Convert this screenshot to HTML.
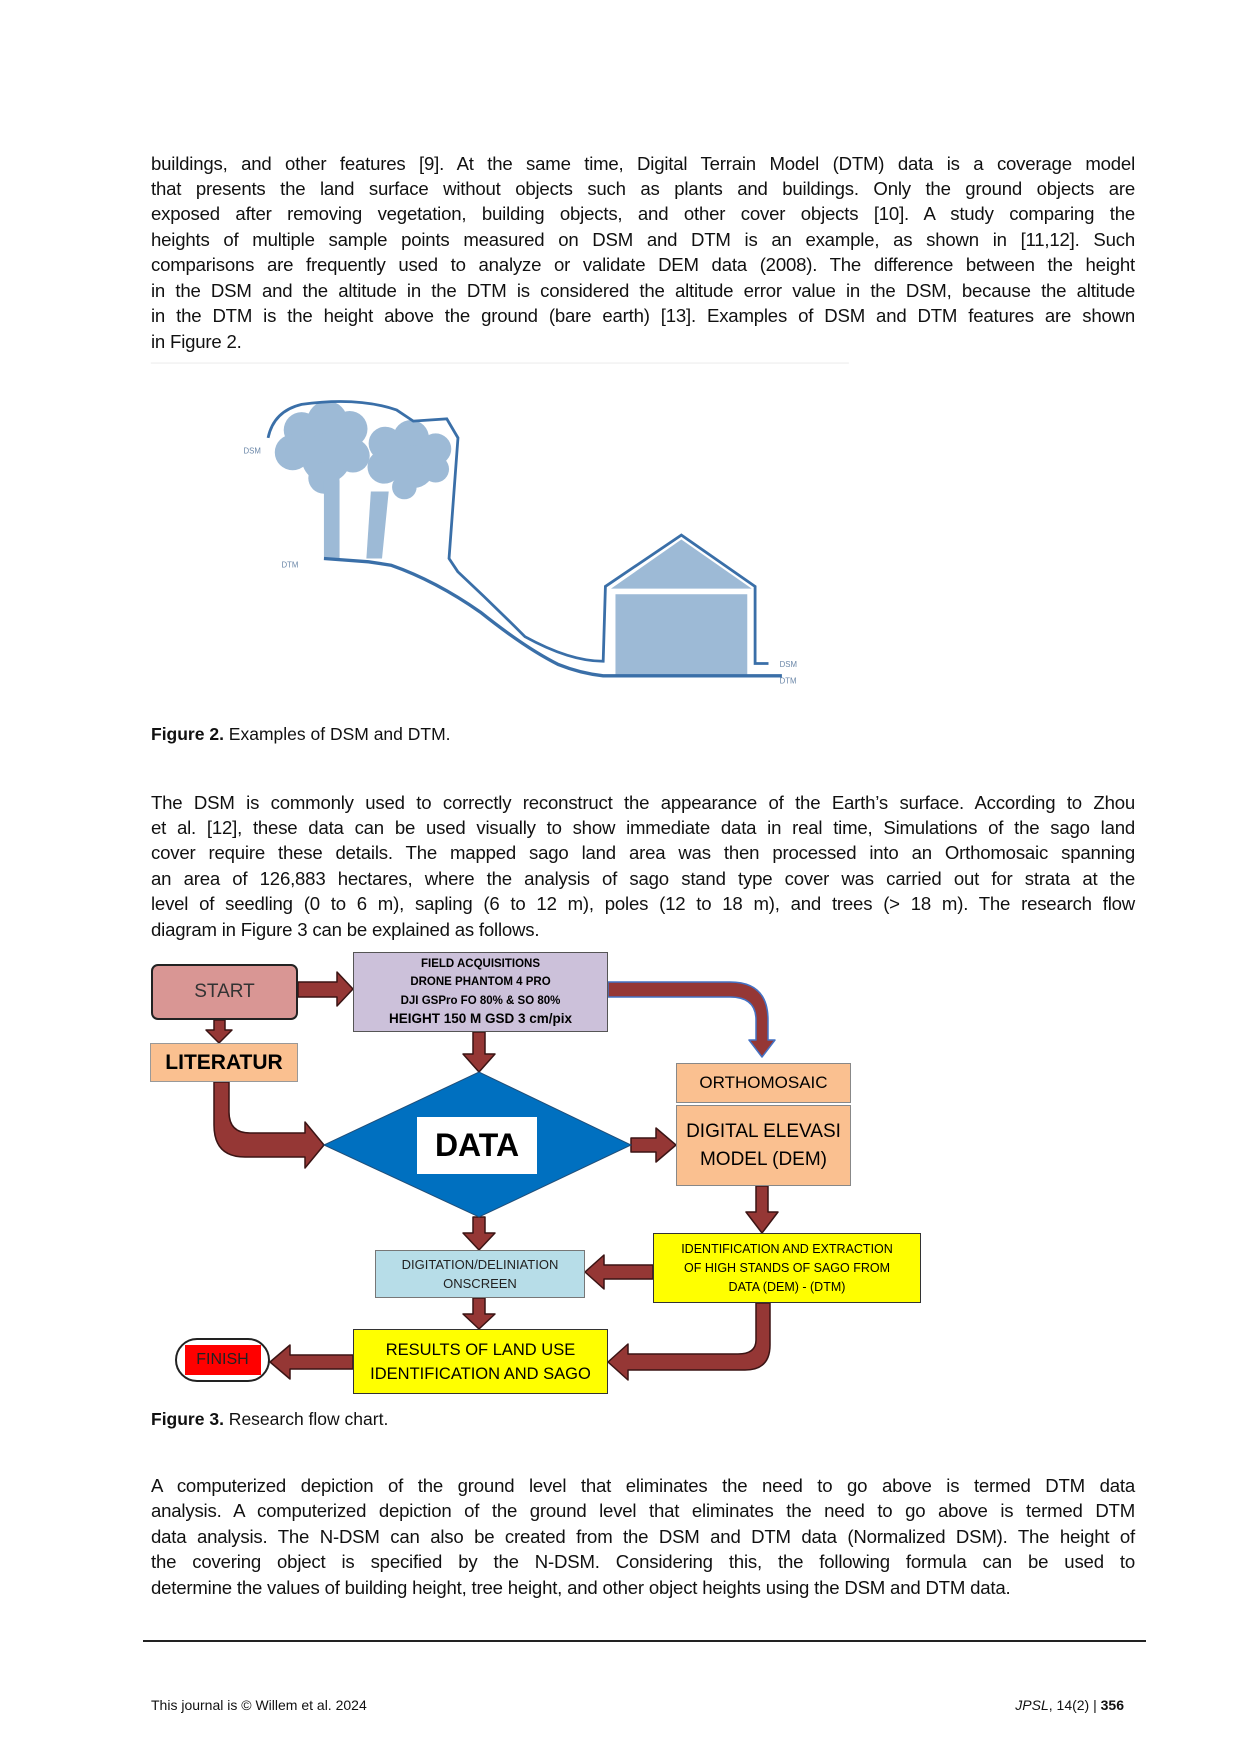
<!DOCTYPE html>
<html><head><meta charset="utf-8"><style>
body{margin:0;background:#fff;}
#p{position:relative;width:1240px;height:1754px;overflow:hidden;font-family:"Liberation Sans",sans-serif;color:#111;}
.l{position:absolute;left:151px;width:984px;font-size:18.6px;line-height:22px;text-align:justify;text-align-last:justify;white-space:nowrap;letter-spacing:-0.2px;}
.l.e{text-align-last:left;}
.cap{position:absolute;left:151px;font-size:17.5px;}
svg{position:absolute;left:0;top:0}
.bx{position:absolute;box-sizing:border-box;display:flex;align-items:center;justify-content:center;text-align:center;color:#000;}
</style></head><body><div id="p">

<div class="l" style="top:153px">buildings, and other features [9]. At the same time, Digital Terrain Model (DTM) data is a coverage model</div>
<div class="l" style="top:178px">that presents the land surface without objects such as plants and buildings. Only the ground objects are</div>
<div class="l" style="top:203px">exposed after removing vegetation, building objects, and other cover objects [10]. A study comparing the</div>
<div class="l" style="top:229px">heights of multiple sample points measured on DSM and DTM is an example, as shown in [11,12]. Such</div>
<div class="l" style="top:254px">comparisons are frequently used to analyze or validate DEM data (2008). The difference between the height</div>
<div class="l" style="top:280px">in the DSM and the altitude in the DTM is considered the altitude error value in the DSM, because the altitude</div>
<div class="l" style="top:305px">in the DTM is the height above the ground (bare earth) [13]. Examples of DSM and DTM features are shown</div>
<div class="l e" style="top:331px">in Figure 2.</div>

<svg width="1240" height="1754" viewBox="0 0 1240 1754">
<g transform="scale(1.117)">
 <line x1="135" y1="325" x2="760" y2="325" stroke="#eee"/>
 <g fill="#9dbad6">
  <circle cx="270" cy="385" r="16"/><circle cx="293" cy="377" r="18"/><circle cx="313" cy="384" r="16"/><circle cx="262" cy="405" r="16"/><circle cx="292" cy="410" r="22"/><circle cx="316" cy="408" r="15"/><circle cx="290" cy="428" r="14"/>
  <circle cx="345" cy="397" r="15"/><circle cx="368" cy="392" r="16"/><circle cx="390" cy="402" r="14"/><circle cx="344" cy="418" r="15"/><circle cx="370" cy="418" r="19"/><circle cx="390" cy="420" r="12"/><circle cx="362" cy="436" r="11"/>
  <rect x="290" y="430" width="14" height="70"/>
  <polygon points="332,440 348,440 342,500 328,500"/>
  <polygon points="547,527 610,483 673,527"/>
  <rect x="551" y="532" width="118" height="72"/>
 </g>
 <g fill="none" stroke="#3a6fa8" stroke-width="2.5">
  <path d="M240,392 Q245,368 270,362 Q320,355 355,367 L370,377 L400,375 L410,392 L402,500 L410,512 Q440,540 470,570 Q510,592 540,592 L542,525 L610,479 L676,525 L676,594 L688,594"/>
  <path d="M290,500 L330,503 L350,506 Q390,520 430,548 Q470,580 500,595 Q520,603 540,605 L700,605" stroke-width="3"/>
 </g>
 <g font-size="7" fill="#6b87a8" font-family="Liberation Sans,sans-serif">
  <text x="218" y="406">DSM</text><text x="252" y="508">DTM</text><text x="698" y="597">DSM</text><text x="698" y="612">DTM</text>
 </g>
</g>

<g fill="#953735" stroke="#3b1414" stroke-width="1.5" stroke-linejoin="round">
 <polygon points="298,982 337,982 337,972 353,989 337,1006 337,997 298,997"/>
 <polygon points="214,1020 225,1020 225,1030 232,1030 219,1043 206,1030 214,1030"/>
 <polygon points="473,1032 485,1032 485,1054 495,1054 479,1072 463,1054 473,1054"/>
 <path d="M214,1082 L229,1082 L229,1112 Q229,1133 250,1133 L305,1133 L305,1122 L324,1145 L305,1168 L305,1157 L245,1157 Q214,1157 214,1125 Z"/>
 <polygon points="631,1138 656,1138 656,1128 676,1145 656,1162 656,1152 631,1152"/>
 <polygon points="756,1186 768,1186 768,1212 778,1212 762,1233 746,1212 756,1212"/>
 <polygon points="473,1217 485,1217 485,1233 495,1233 479,1250 463,1233 473,1233"/>
 <polygon points="653,1265 604,1265 604,1255 585,1272 604,1289 604,1279 653,1279"/>
 <polygon points="473,1298 485,1298 485,1314 495,1314 479,1329 463,1314 473,1314"/>
 <path d="M756,1303 L770,1303 L770,1345 Q770,1370 745,1370 L628,1370 L628,1380 L608,1362 L628,1344 L628,1354 L738,1354 Q756,1354 756,1340 Z"/>
 <polygon points="353,1355 290,1355 290,1345 270,1362 290,1379 290,1369 353,1369"/>
 <path d="M608,982 L730,982 Q768,982 768,1020 L768,1040 L775,1040 L762,1057 L749,1040 L756,1040 L756,1020 Q756,997 730,997 L608,997 Z" stroke="#4472c4"/>
</g>
<polygon points="324,1145 479,1072 631,1145 479,1217" fill="#0070c0" stroke="#1f4e79" stroke-width="1"/>
</svg>

<div class="cap" style="top:724px"><b>Figure 2.</b> Examples of DSM and DTM.</div>

<div class="l" style="top:792px">The DSM is commonly used to correctly reconstruct the appearance of the Earth’s surface. According to Zhou</div>
<div class="l" style="top:817px">et al. [12], these data can be used visually to show immediate data in real time, Simulations of the sago land</div>
<div class="l" style="top:842px">cover require these details. The mapped sago land area was then processed into an Orthomosaic spanning</div>
<div class="l" style="top:868px">an area of 126,883 hectares, where the analysis of sago stand type cover was carried out for strata at the</div>
<div class="l" style="top:893px">level of seedling (0 to 6 m), sapling (6 to 12 m), poles (12 to 18 m), and trees (&gt; 18 m). The research flow</div>
<div class="l e" style="top:919px">diagram in Figure 3 can be explained as follows.</div>

<div class="bx" style="left:151px;top:964px;width:147px;height:56px;background:#d99694;border:2.5px solid #222;border-radius:7px;font-size:19px;color:#333">START</div>
<div class="bx" style="left:353px;top:952px;width:255px;height:80px;background:#ccc1da;border:1.5px solid #555;font-weight:bold"><div style="font-size:11.5px;line-height:18.5px;white-space:nowrap">FIELD ACQUISITIONS<br>DRONE PHANTOM 4 PRO<br>DJI GSPro FO 80% &amp; SO 80%<br><span style="font-size:13.5px">HEIGHT 150 M GSD 3 cm/pix</span></div></div>
<div class="bx" style="left:150px;top:1043px;width:148px;height:39px;background:#fac090;border:1.5px solid #999;font-size:21px;font-weight:bold">LITERATUR</div>
<div class="bx" style="left:417px;top:1117px;width:120px;height:57px;background:#fff;font-size:32px;font-weight:bold">DATA</div>
<div class="bx" style="left:676px;top:1063px;width:175px;height:40px;background:#fac090;border:1.5px solid #888;font-size:17px">ORTHOMOSAIC</div>
<div class="bx" style="left:676px;top:1105px;width:175px;height:81px;background:#fac090;border:1.5px solid #888;font-size:19px;line-height:28px"><div>DIGITAL ELEVASI<br>MODEL (DEM)</div></div>
<div class="bx" style="left:653px;top:1233px;width:268px;height:70px;background:#ffff00;border:1.5px solid #333;font-size:12.5px;line-height:19px"><div>IDENTIFICATION AND EXTRACTION<br>OF HIGH STANDS OF SAGO FROM<br>DATA (DEM) - (DTM)</div></div>
<div class="bx" style="left:375px;top:1250px;width:210px;height:48px;background:#b7dde8;border:1.5px solid #777;font-size:13px;line-height:19px;color:#222"><div>DIGITATION/DELINIATION<br>ONSCREEN</div></div>
<div class="bx" style="left:353px;top:1329px;width:255px;height:65px;background:#ffff00;border:1.5px solid #333;font-size:16.5px;line-height:24px"><div>RESULTS OF LAND USE<br>IDENTIFICATION AND SAGO</div></div>
<div class="bx" style="left:175px;top:1338px;width:95px;height:44px;border:2px solid #222;border-radius:22px;background:#fff"><div style="background:#ff0000;width:76px;height:30px;display:flex;align-items:center;justify-content:center;font-size:16px;color:#222">FINISH</div></div>

<div class="cap" style="top:1409px"><b>Figure 3.</b> Research flow chart.</div>

<div class="l" style="top:1475px">A computerized depiction of the ground level that eliminates the need to go above is termed DTM data</div>
<div class="l" style="top:1500px">analysis. A computerized depiction of the ground level that eliminates the need to go above is termed DTM</div>
<div class="l" style="top:1526px">data analysis. The N-DSM can also be created from the DSM and DTM data (Normalized DSM). The height of</div>
<div class="l" style="top:1551px">the covering object is specified by the N-DSM. Considering this, the following formula can be used to</div>
<div class="l e" style="top:1577px">determine the values of building height, tree height, and other object heights using the DSM and DTM data.</div>

<div style="position:absolute;left:143px;top:1640px;width:1003px;height:2px;background:#222"></div>
<div style="position:absolute;left:151px;top:1697px;font-size:14px">This journal is © Willem et al. 2024</div>
<div style="position:absolute;right:116px;top:1697px;font-size:14px"><i>JPSL</i>, 14(2) | <b>356</b></div>
</div></body></html>
